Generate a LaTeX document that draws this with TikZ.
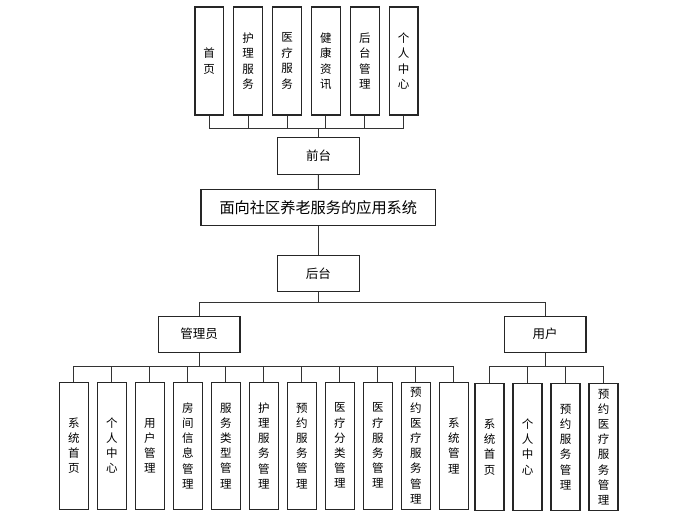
\documentclass[tikz,border=0pt]{standalone}
\usepackage{fontspec}
\newfontfamily\cjk{Noto Sans CJK SC}
\begin{document}
\begin{tikzpicture}[x=1pt,y=-1pt,
  box/.style={draw=black!85, line width=1.1pt, fill=white, inner sep=0pt, align=center},
  hbox/.style={box, minimum width=81.6pt, minimum height=36.3pt, font=\cjk\fontsize{12.5}{14}\selectfont},
  vtop/.style={box, minimum width=28.5pt, minimum height=108pt, font=\cjk\fontsize{11.5}{15.5}\selectfont},
  vbot/.style={box, minimum width=29pt, minimum height=126.7pt, font=\cjk\fontsize{11.5}{15.2}\selectfont},
  link/.style={draw=black!80, line width=1pt}]
\useasboundingbox (0,0) rectangle (689,520);
% top boxes
\node[vtop] (t1) at (209.2,61) {首\\页};
\node[vtop] (t2) at (248.1,61) {护\\理\\服\\务};
\node[vtop] (t3) at (287.0,61) {医\\疗\\服\\务};
\node[vtop] (t4) at (325.9,61) {健\\康\\资\\讯};
\node[vtop] (t5) at (364.8,61) {后\\台\\管\\理};
\node[vtop] (t6) at (403.7,61) {个\\人\\中\\心};
\node[hbox] (front) at (318.5,156) {前台};
\node[box, minimum width=234.7pt, minimum height=36pt, font=\cjk\fontsize{15.2}{17}\selectfont] (main) at (318.3,207.3) {面向社区养老服务的应用系统};
\node[hbox] (back) at (318.3,273.5) {后台};
\node[hbox] (admin) at (199.2,334.2) {管理员};
\node[hbox] (user) at (545.2,334.2) {用户};
% admin boxes
\node[vbot] (a1) at (73.8,445.7) {系\\统\\首\\页};
\node[vbot] (a2) at (111.8,445.7) {个\\人\\中\\心};
\node[vbot] (a3) at (149.8,445.7) {用\\户\\管\\理};
\node[vbot] (a4) at (187.8,445.7) {房\\间\\信\\息\\管\\理};
\node[vbot] (a5) at (225.8,445.7) {服\\务\\类\\型\\管\\理};
\node[vbot] (a6) at (263.8,445.7) {护\\理\\服\\务\\管\\理};
\node[vbot] (a7) at (301.8,445.7) {预\\约\\服\\务\\管\\理};
\node[vbot] (a8) at (339.8,445.7) {医\\疗\\分\\类\\管\\理};
\node[vbot] (a9) at (377.8,445.7) {医\\疗\\服\\务\\管\\理};
\node[vbot] (a10) at (415.8,445.7) {预\\约\\医\\疗\\服\\务\\管\\理};
\node[vbot] (a11) at (453.8,445.7) {系\\统\\管\\理};
% user boxes
\node[vbot] (u1) at (489.5,446.9) {系\\统\\首\\页};
\node[vbot] (u2) at (527.5,446.9) {个\\人\\中\\心};
\node[vbot] (u3) at (565.5,446.9) {预\\约\\服\\务\\管\\理};
\node[vbot] (u4) at (603.5,446.9) {预\\约\\医\\疗\\服\\务\\管\\理};
% bus coordinates
\coordinate (topbus) at (0,128.3);
\coordinate (midbus) at (0,302.7);
\coordinate (lowbus) at (0,366);
% connectors
\foreach \t in {t1,t2,t3,t4,t5,t6}
  \draw[link] (front.north) -- (front.north |- topbus) -| (\t.south);
\draw[link] (front.south) -- (main.north);
\draw[link] (main.south) -- (back.north);
\foreach \c in {admin,user}
  \draw[link] (back.south) -- (back.south |- midbus) -| (\c.north);
\foreach \c in {a1,a2,a3,a4,a5,a6,a7,a8,a9,a10,a11}
  \draw[link] (admin.south) -- (admin.south |- lowbus) -| (\c.north);
\foreach \c in {u1,u2,u3,u4}
  \draw[link] (user.south) -- (user.south |- lowbus) -| (\c.north);
\end{tikzpicture}
\end{document}
